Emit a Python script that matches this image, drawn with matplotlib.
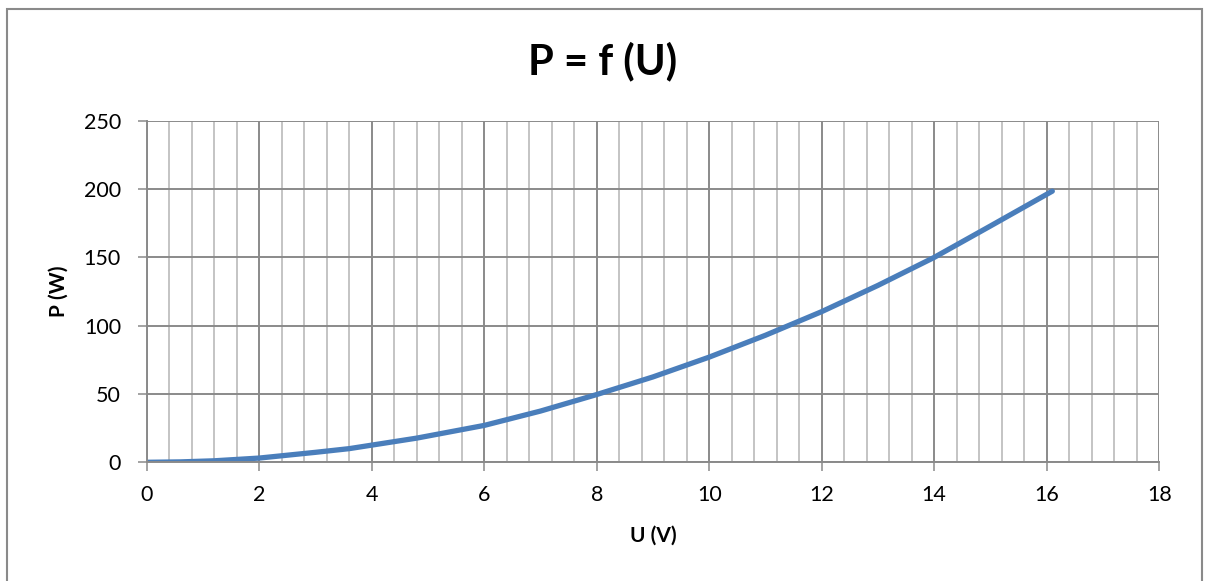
import matplotlib
matplotlib.use("Agg")
import matplotlib.pyplot as plt
from matplotlib.patches import Rectangle
from matplotlib.ticker import MultipleLocator

plt.rcParams['font.family'] = ['Lato', 'DejaVu Sans']

# data
U = [0.0, 0.6, 1.2, 2.0, 3.0, 3.6, 4.8, 6.0, 7.0, 8.0, 9.0, 10.0, 11.0, 12.0, 13.0, 14.0, 15.0, 16.1]
P = [0.0, 0.3, 1.1, 3.1, 7.3, 10.0, 17.7, 27.0, 37.5, 49.6, 62.5, 77.0, 93.0, 110.3, 129.5, 150.0, 173.0, 198.5]
title = "P = f (U)"
xlabel = "U (V)"
ylabel = "P (W)"

W, H = 1206, 581
fig = plt.figure(figsize=(W / 100, H / 100), dpi=100)
fig.patch.set_facecolor("white")

ax_left, ax_right = 146.7 / W, 1159.2 / W
ax_top, ax_bottom = 1 - 120.8 / H, 1 - 462.3 / H
ax = fig.add_axes([ax_left, ax_bottom, ax_right - ax_left, ax_top - ax_bottom])

ax.set_xlim(0, 18)
ax.set_ylim(0, 250)
ax.xaxis.set_major_locator(MultipleLocator(2))
ax.xaxis.set_minor_locator(MultipleLocator(0.4))
ax.yaxis.set_major_locator(MultipleLocator(50))

ax.grid(which="minor", axis="x", color="#c4c4c4", linewidth=1.4)
ax.grid(which="major", axis="x", color="#8a8a8a", linewidth=1.4)
ax.grid(which="major", axis="y", color="#8a8a8a", linewidth=1.4)
ax.set_axisbelow(True)

for s in ["top", "right"]:
    ax.spines[s].set_visible(False)
for s in ["left", "bottom"]:
    ax.spines[s].set_color("#8a8a8a")
    ax.spines[s].set_linewidth(1.4)

ax.tick_params(which="major", direction="out", length=6.5, width=1.1, color="#8a8a8a",
               labelsize=15.5, labelcolor="black")
ax.tick_params(axis="x", which="major", pad=10)
ax.tick_params(axis="y", which="major", pad=12)
ax.tick_params(which="minor", length=0)

ax.plot(U, P, color="#4a7ebb", linewidth=3.8, solid_capstyle="round", solid_joinstyle="round")

ax.set_xlabel(xlabel, fontsize=15, fontweight="bold", labelpad=15)
ax.set_ylabel(ylabel, fontsize=15, fontweight="bold", labelpad=11)

fig.text(0.5, 1 - 61 / H, title, ha="center", va="center", fontsize=30, fontweight="bold")

# chart border
fig.patches.append(Rectangle((6.5 / W, -0.05), (1201.5 - 6.5) / W, 1.05 - 9.5 / H,
                             transform=fig.transFigure, fill=False,
                             edgecolor="#8a8a8a", linewidth=1.5))

fig.savefig("out.png", dpi=100)
